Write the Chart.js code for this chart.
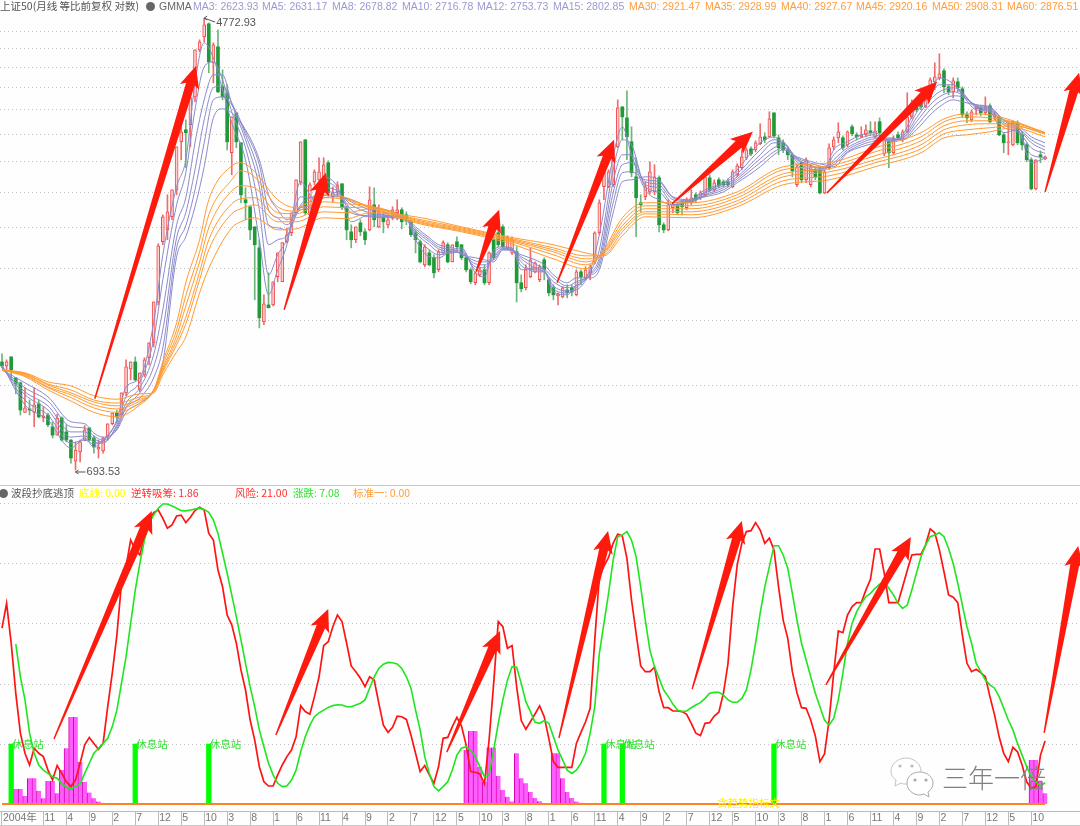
<!DOCTYPE html>
<html lang="zh"><head><meta charset="utf-8"><title>上证50 GMMA</title>
<script src="https://cdn.jsdelivr.net/npm/chart.js@4"></script>
<style>
html,body{margin:0;padding:0;background:#fefefe;width:1080px;height:826px;overflow:hidden}
body{position:relative;font-family:"Liberation Sans",Arial,sans-serif}
canvas{position:absolute;left:0;display:block}
.t{position:absolute;white-space:nowrap;font-size:10.5px;line-height:12px;z-index:3}
.cn{font-family:"Noto Sans CJK SC","Liberation Sans",sans-serif}
.rule{position:absolute;left:0;width:1080px;height:1px;background:#c8c8c8;z-index:2}
.dot{position:absolute;width:9px;height:9px;border-radius:50%;background:#666;z-index:3}
</style></head><body>
<div class="rule" style="top:485px"></div><div class="rule" style="top:825px"></div>
<canvas id="top" width="1080" height="485" style="top:0"></canvas>
<canvas id="bot" width="1080" height="341" style="top:485px"></canvas>
<div class="t cn" style="left:0;top:0;color:#555">上证50(月线 等比前复权 对数)</div>
<div class="dot" style="left:146px;top:2px"></div>
<div class="t" style="left:159px;top:0;color:#666">GMMA</div>
<div class="t" style="left:193px;top:0;color:#9a9ad0">MA3: 2623.93</div>
<div class="t" style="left:262px;top:0;color:#9a9ad0">MA5: 2631.17</div>
<div class="t" style="left:332px;top:0;color:#9a9ad0">MA8: 2678.82</div>
<div class="t" style="left:402px;top:0;color:#9a9ad0">MA10: 2716.78</div>
<div class="t" style="left:477px;top:0;color:#9a9ad0">MA12: 2753.73</div>
<div class="t" style="left:553px;top:0;color:#9a9ad0">MA15: 2802.85</div>
<div class="t" style="left:629px;top:0;color:#ff9d3c">MA30: 2921.47</div>
<div class="t" style="left:705px;top:0;color:#ff9d3c">MA35: 2928.99</div>
<div class="t" style="left:781px;top:0;color:#ff9d3c">MA40: 2927.67</div>
<div class="t" style="left:856px;top:0;color:#ff9d3c">MA45: 2920.16</div>
<div class="t" style="left:932px;top:0;color:#ff9d3c">MA50: 2908.31</div>
<div class="t" style="left:1007px;top:0;color:#ff9d3c">MA60: 2876.51</div>
<div class="dot" style="left:-1px;top:489px"></div>
<div class="t cn" style="left:11px;top:487px;color:#555">波段抄底逃顶</div>
<div class="t cn" style="left:79px;top:487px;color:#ffff00">底线: 0.00</div>
<div class="t cn" style="left:131px;top:487px;color:#ff3030">逆转吸筹: 1.86</div>
<div class="t cn" style="left:235px;top:487px;color:#ff3030">风险: 21.00</div>
<div class="t cn" style="left:293px;top:487px;color:#33e033">涨跌: 7.08</div>
<div class="t cn" style="left:353px;top:487px;color:#ff9d3c">标准一: 0.00</div>
<div class="t cn" style="left:717px;top:797px;color:#ffee00">贪趋势指标文</div>
<svg style="position:absolute;left:888px;top:755px;z-index:3" width="50" height="44" viewBox="0 0 50 44">
<path d="M18 3c8 0 15 6 15 13s-7 13-15 13c-2 0-3 0-5-1l-6 3 1-6c-3-2-5-5-5-9C3 9 10 3 18 3z" fill="#fff" stroke="#c4c4c4"/>
<path d="M32 17c7 0 13 5 13 11 0 4-2 7-5 9l1 5-5-3c-1 0-3 1-4 1-7 0-13-5-13-12s6-11 13-11z" fill="#fff" stroke="#aaa"/>
<circle cx="12" cy="11" r="1.6" fill="#bbb"/><circle cx="24" cy="11" r="1.6" fill="#bbb"/>
<circle cx="27" cy="25" r="1.6" fill="#aaa"/><circle cx="38" cy="25" r="1.6" fill="#aaa"/></svg>
<div class="t cn" style="left:942px;top:762px;font-size:26px;line-height:30px;font-weight:300;color:#808080">三年一倍</div>
<script>
const openPrice=[1100,1081,1124,1028,1006,887,900,887,920,866,
877,834,805,866,816,788,720,749,788,830,
795,758,752,798,845,884,877,964,1068,1100,
976,1041,1120,1193,1421,1837,1933,2044,2293,2815,
2963,3027,3410,4168,4405,4657,3943,4222,3560,3470,
2686,3185,2803,2198,2133,1958,1790,1305,1403,1403,
1582,1549,1837,1909,2079,2373,2839,2061,2373,2393,
2424,2574,2226,2273,2353,2133,1917,1853,1992,1917,
1933,2151,1958,2035,1975,2035,2079,2106,2061,2001,
1909,1837,1665,1752,1716,1630,1752,1814,1686,1837,
1814,1716,1630,1542,1595,1630,1542,1853,1909,1958,
1790,1752,1760,1542,1510,1582,1616,1562,1701,1562,
1510,1458,1452,1496,1510,1465,1616,1575,1609,1686,
1909,2323,2323,2343,2755,3268,3118,2815,2424,2170,
2226,2273,2273,2414,1975,1933,2124,2151,2170,2124,
2170,2245,2217,2245,2414,2293,2393,2373,2373,2323,
2445,2520,2629,2732,2720,2791,2875,2875,3185,2863,
2803,2720,2663,2343,2574,2393,2343,2498,2498,2263,
2520,2755,2863,2863,2779,3001,2900,2875,2900,2950,
2875,3066,2674,2815,2686,2900,2839,2938,3131,3296,
3367,3268,3410,3636,3698,3811,3560,3484,3636,3529,
3158,3092,3240,3254,3185,3282,3131,3118,2900,2803,
2779,3053,2900,2779,2607,2303,2663,2618];
const highPrice=[1139,1110,1124,1028,1010,985,935,985,935,908,
884,852,880,870,841,790,782,788,838,830,
802,788,798,845,884,896,964,1110,1100,1124,
1050,1120,1193,1421,1822,2061,2245,2293,2755,3053,
3092,3410,4168,4350,4772.93,4677,4295,4539,3827,3590,
3131,3185,2803,2313,2133,1958,1853,1465,1609,1549,
1752,1830,1950,2079,2393,2815,2839,2363,2498,2629,
2629,2596,2323,2373,2353,2133,1975,1958,2018,1941,
2323,2313,2151,2079,2061,2133,2198,2124,2088,2018,
1933,1853,1814,1775,1738,1775,1845,1830,1814,1877,
1814,1723,1644,1616,1644,1665,1760,1869,1992,1975,
1885,1877,1798,1595,1665,1790,1686,1665,1716,1575,
1529,1477,1516,1529,1529,1630,1630,1651,1665,1917,
2198,2520,2498,2629,3367,3268,3500,3001,2629,2245,
2373,2585,2552,2434,1992,2198,2170,2170,2188,2217,
2293,2263,2283,2445,2445,2393,2414,2393,2403,2498,
2563,2720,2744,2755,2827,3040,2926,3200,3185,2900,
2839,2755,2686,2563,2585,2629,2552,2520,2520,2498,
2791,2875,3053,2888,2950,3027,2926,3001,3027,3066,
3066,3118,2875,2839,2888,2938,2963,3470,3367,3325,
3396,3440,3698,3943,4098,3843,3590,3698,3698,3560,
3200,3227,3296,3282,3410,3310,3200,3145,2926,3053,
3079,3079,2938,2803,2629,2607,2708,2652];
const lowPrice=[1072,1051,1019,960,877,887,877,834,866,852,
834,795,805,785,782,714,693.53,718,785,785,
745,730,745,788,841,848,877,952,1019,1015,
968,1033,1086,1173,1403,1814,1853,2018,2245,2607,
2520,2755,3339,4132,4312,3779,3620,3470,3367,2720,
2445,2744,2170,2018,1853,1434,1272,1289,1386,1397,
1549,1549,1830,1885,2070,2343,2061,2035,2343,2373,
2393,2245,2179,2226,2106,1853,1790,1830,1885,1814,
1925,1958,1950,1909,1950,2018,2018,1941,1975,1877,
1752,1679,1651,1658,1575,1616,1738,1679,1686,1775,
1701,1616,1535,1529,1582,1529,1529,1701,1798,1790,
1775,1738,1421,1483,1496,1575,1609,1549,1562,1458,
1434,1403,1446,1446,1458,1458,1529,1562,1562,1672,
1893,2198,2313,2323,2744,2839,2607,2424,1877,2088,
2198,2254,2245,1917,1909,1925,2079,2061,2061,2106,
2151,2170,2198,2226,2273,2273,2313,2323,2323,2313,
2424,2498,2607,2652,2697,2779,2803,2875,2863,2663,
2686,2607,2424,2323,2363,2363,2323,2393,2254,2254,
2498,2720,2803,2720,2755,2888,2839,2863,2875,2900,
2863,2888,2652,2520,2663,2839,2815,2926,3105,3200,
3227,3254,3396,3514,3667,3470,3440,3396,3484,3118,
3053,3066,3158,3145,3158,3053,3092,2888,2686,2663,
2767,2779,2720,2585,2293,2293,2574,2607];
const closePrice=[1081,1100,1063,1001,896,904,896,916,870,873,
841,805,866,788,788,730,755,782,823,788,
765,765,795,845,884,870,964,1077,1100,1019,
1050,1110,1193,1421,1806,2044,2088,2293,2755,2938,
2926,3395,4168,4312,4637,3960,4258,3484,3410,2815,
3131,2815,2245,2170,1933,1814,1328,1409,1386,1549,
1752,1830,1893,2079,2393,2815,2079,2343,2477,2477,
2552,2263,2263,2343,2124,1933,1853,1958,1917,1853,
2198,2018,2079,2001,2018,2106,2106,2001,2009,1893,
1853,1686,1798,1665,1609,1760,1830,1686,1814,1798,
1716,1630,1549,1609,1630,1542,1752,1716,1814,1798,
1869,1853,1542,1503,1630,1701,1679,1651,1630,1477,
1465,1471,1510,1477,1483,1616,1582,1630,1651,1909,
2170,2498,2477,2607,3254,3131,2875,2466,2217,2151,
2323,2477,2424,1975,1933,2151,2151,2079,2133,2198,
2217,2198,2263,2424,2293,2363,2333,2343,2343,2477,
2541,2640,2720,2674,2803,2875,2839,3105,2888,2744,
2720,2663,2487,2530,2393,2607,2530,2424,2263,2477,
2744,2839,2938,2744,2938,2913,2875,2900,2963,2926,
2950,2926,2839,2686,2863,2863,2938,3131,3325,3227,
3268,3410,3667,3714,3762,3560,3484,3651,3545,3158,
3118,3200,3268,3185,3268,3066,3158,2900,2803,2815,
3053,2803,2779,2607,2303,2607,2640,2640];

const shortIdx=[0,5,10,15,18,20,22,25,27,30,33,35,38,40,42,44,46,48,50,53,
56,58,60,62,65,68,70,73,76,80,85,88,90,93,95,98,100,103,105,107,
109,111,113,116,118,120,123,125,128,130,133,135,137,140,143,146,150,153,157,160,
165,168,170,173,177,179,181,184,187,190,193,196,199,202,204,207,209,212,215,218,221,224,227];
const ma3=[1086,916,859,762,795,765,788,859,989,1028,1300,1738,2323,2607,3620,4295,4028,3514,3053,2607,
1853,1465,1630,1814,2373,2198,2424,2323,2001,2061,2052,2027,1853,1723,1716,1775,1790,1609,1582,1775,
1798,1790,1630,1644,1630,1483,1465,1529,1630,1893,2640,3001,2663,2293,2198,2151,2198,2293,2363,2498,
2803,2875,2779,2552,2477,2498,2720,2815,2900,2926,2815,2900,3268,3514,3698,3605,3440,3227,3200,2926,2963,2574,2623.93];
const ma5=[1081,935,877,778,788,775,785,852,948,1010,1209,1562,2151,2466,3227,3875,3960,3667,3200,2744,
2106,1595,1738,1853,2226,2217,2373,2303,2079,2052,2044,2027,1885,1775,1738,1760,1775,1630,1616,1752,
1790,1783,1658,1630,1616,1503,1477,1510,1616,1775,2498,2839,2779,2323,2273,2151,2188,2273,2353,2455,
2720,2839,2815,2585,2498,2498,2663,2779,2863,2900,2827,2875,3185,3440,3590,3590,3470,3254,3213,2989,2938,2663,2631.17];
const ma8=[1077,956,896,798,802,782,778,841,923,985,1134,1374,1975,2217,2803,3367,3746,3746,3310,2839,
2323,1814,1853,1885,2151,2236,2313,2283,2106,2044,2035,2018,1909,1814,1760,1752,1760,1651,1644,1730,
1783,1775,1686,1616,1616,1522,1490,1496,1602,1716,2373,2663,2663,2343,2313,2170,2179,2263,2333,2424,
2663,2803,2803,2607,2520,2509,2607,2744,2827,2875,2839,2863,3118,3367,3484,3545,3470,3268,3227,3027,2963,2744,2678.82];
const ma10=[1072,968,912,816,816,792,782,834,908,964,1077,1261,1869,2079,2498,3092,3545,3575,3325,2900,
2445,1975,1950,1933,2133,2198,2273,2263,2151,2079,2052,2018,1925,1837,1783,1760,1752,1672,1665,1716,
1783,1775,1708,1644,1616,1549,1510,1522,1595,1686,2263,2552,2574,2373,2343,2198,2179,2245,2313,2403,
2618,2744,2779,2618,2530,2520,2574,2720,2803,2851,2839,2851,3066,3296,3410,3484,3440,3282,3240,3053,2989,2803,2716.78];
const ma12=[1068,985,931,834,830,802,788,827,904,943,1028,1168,1790,1967,2293,2803,3367,3410,3296,2938,
2552,2106,2035,1975,2124,2151,2236,2245,2179,2106,2070,2027,1941,1853,1798,1775,1745,1693,1686,1701,
1775,1775,1723,1672,1637,1575,1522,1549,1589,1658,2170,2466,2477,2393,2373,2217,2188,2236,2293,2383,
2574,2697,2744,2629,2552,2530,2552,2697,2779,2827,2851,2839,3014,3227,3339,3425,3410,3296,3254,3079,3001,2839,2753.73];
const ma15=[1063,1006,948,852,845,812,798,823,887,923,976,1095,1723,1877,2133,2530,3118,3240,3185,2963,
2607,2245,2106,2018,2106,2133,2217,2226,2198,2133,2088,2035,1958,1869,1814,1790,1738,1716,1701,1686,
1775,1768,1738,1701,1665,1595,1542,1575,1575,1630,2079,2373,2393,2424,2393,2226,2198,2226,2273,2363,
2530,2663,2720,2640,2574,2552,2530,2686,2754,2803,2863,2839,2963,3158,3268,3367,3339,3296,3268,3092,3027,2875,2802.85];

const longIdx=[0,5,10,15,20,25,30,33,35,38,40,43,45,50,52,55,60,64,70,75,
80,90,100,110,120,127,131,135,140,150,160,170,180,190,200,205,210,215,220,227];
const ma30=[1063,1033,976,931,887,870,916,976,1100,1300,1542,1853,2198,2541,2574,2476,2198,2124,2245,2217,
2124,1992,1917,1830,1708,1637,1775,2035,2170,2170,2273,2530,2574,2744,2926,3105,3172,3158,3079,2921.47];
const ma35=[1063,1037,985,945,904,887,923,972,1086,1261,1460,1760,2061,2393,2487,2423,2133,2094,2217,2198,
2133,2001,1925,1845,1738,1665,1760,2001,2142,2142,2245,2498,2541,2697,2875,3066,3131,3118,3066,2928.99];
const ma40=[1063,1041,989,956,916,900,931,972,1072,1229,1397,1686,1950,2283,2333,2313,2079,2070,2179,2160,
2142,2009,1933,1853,1760,1686,1752,1967,2115,2115,2217,2455,2509,2652,2827,3014,3079,3079,3053,2927.67];
const ma45=[1063,1045,997,964,927,912,938,968,1063,1203,1331,1613,1853,2160,2207,2217,2035,2035,2133,2124,
2133,2018,1941,1861,1775,1708,1745,1941,2088,2088,2188,2423,2476,2607,2779,2963,3027,3040,3027,2920.16];
const ma50=[1063,1047,1001,976,935,923,947,968,1054,1183,1294,1562,1775,2070,2115,2151,2001,2001,2088,2079,
2115,2027,1950,1869,1790,1730,1738,1917,2070,2061,2160,2383,2434,2574,2732,2913,2963,2989,3014,2908.31];
const ma60=[1063,1050,1010,993,952,938,960,964,1041,1148,1224,1477,1640,1950,2001,2035,1933,1941,2035,2027,
2079,2044,1958,1877,1814,1752,1730,1885,2044,2035,2133,2343,2393,2530,2686,2863,2900,2938,2989,2876.51];

const reversal=[58.6,66.9,53.6,36.9,23.6,16.9,13,18.6,16.9,15.8,
11.3,8,12.8,10.2,7.4,5.8,8,13.6,19.7,22.2,
20.2,18.2,20.2,32.4,43.6,56.3,73.6,79.1,88,84.7,
83,89.1,94.1,97.1,98,95.2,91.9,93,96,96.3,
93.8,95.6,97.8,98.9,98,90.2,88,78,72.4,63,
59.7,53.6,44.7,38,28,21.3,12.4,7.4,6,6,
9.7,13,15.8,18,22.4,32.7,30.8,29.9,35.8,42.4,
52.8,54.1,59.1,63,60.8,53.6,46,44.1,41.9,39.1,
42.4,41.3,33.6,26.3,23.9,25.6,29.3,29.1,28.2,23,
16.9,10.8,12.8,9.7,6.9,12.4,21.9,22.2,25.8,28.9,
26,19.7,10.8,10.6,10,6.7,21.3,40.2,60.8,59.1,
51.9,52.8,39.1,27.8,24.9,27.4,30,32.7,29.1,21.9,
14.1,12.2,12.2,12.2,12.2,20.2,23.9,27.4,31.9,54.7,
75.8,79.3,82.2,86.9,90,89.3,81.9,68,56.9,46,
44.1,44.1,45.6,37.4,32.1,32.1,31,31,30.8,29.9,
26.9,23.6,22.8,26.9,27.1,29.3,30.6,36.9,46.9,65.8,
79.7,86.9,90.8,91.1,93.8,91.3,86.9,88.6,84.7,72.4,
61.3,55.2,44.1,37.1,32.1,31.9,28,22.7,14.1,16.7,
28,43.6,57.7,57.1,63,65.8,67.1,67.1,71.3,74.9,
85,85,76.9,67.1,67.1,67.1,72.4,77.8,83,83.2,
83.2,86.3,91.7,90.4,84.7,77.4,69.7,68.9,67.1,56.3,
46.9,44.1,44.9,43.8,42.4,35.8,29.7,22.4,16.9,14.1,
18.9,17.4,13,7.4,5.2,5.8,16.3,21];
const trendLine=[null,null,null,53.3,42.4,34.7,23.6,16.9,13,11.3,
10.2,9.1,8.6,6.9,5.6,5,5.8,6.7,10.2,13.6,
16.9,18.6,20.2,21.9,25.8,31.3,40.2,49.1,60.2,71.3,
80.2,88,93.6,96.3,98.6,100,100,99.3,98.6,97.8,
97.7,98,98.3,98.6,98.2,97.2,94.7,90.2,83.6,76.9,
69.7,62.4,54.7,46.9,39.1,32.4,24.7,19.1,13.6,9.7,
6.9,5.8,6,8,11.3,17.4,22.4,26.3,29.1,30.4,
31.3,32.2,32.8,33.1,33,32.4,32.4,33,33.6,34.7,
38.6,42.4,45.2,46.6,47.2,47.1,46.7,45.2,42.4,38.6,
31.3,24.7,15.8,10.2,5.8,4.4,5.8,7.4,11.3,16.3,
18.6,19.1,18,15.8,12.4,9.1,9.7,18,26.9,34.7,
41.3,45.8,45.6,40.2,34.1,30.8,27.2,26.9,27.8,26.9,
22.4,18,14.7,11.3,10.2,11.3,13.6,16.9,23.6,32.4,
50.2,60.2,70.2,81.3,89.1,89.7,90.8,88,82.4,72.4,
61.3,51.3,45.8,41.9,38,35.8,33.3,31.3,30.8,31,
32.1,33,33.8,35.2,36.9,37.2,37.2,36.3,34.7,33.9,
33.9,35.2,38,44.7,53.6,63.6,72.4,79.1,86.1,86.1,
83,78.6,70.2,61.3,53.6,48,42.4,36.9,32.4,28,
26.3,28.6,34.7,43.6,53.6,60.2,64.1,66.9,69.1,70.2,
71.9,73.3,74.1,71.9,69.7,66.9,65.2,66.3,71.3,76.9,
82.4,86.3,89.1,89.7,90.4,89.1,85.2,80.2,73.6,66.3,
59.1,53.6,46.9,44.1,41.3,39.7,38.6,35.8,31.9,28,
24.7,20.2,16.3,12.4,9.1,7.4,6,7.08];

const pinkIdx=[3,4,5,6,7,8,9,10,11,12,13,14,15,16,17,18,19,20,21,
101,102,103,104,105,106,107,108,109,110,111,112,113,114,115,116,117,
120,121,122,123,124,125,126,224,225,226,227];
const pinkVal=[5,5,2.7,8.6,8.6,4.4,1.9,7.7,7.7,3.6,11.3,18.6,29,29,14,7.4,3.8,1.9,.8,
18,24.3,24.3,12.4,7.4,18.8,18.8,9.3,4.7,2.4,.8,16.9,8.6,6.9,4,2,.9,
16.9,16.9,8.6,4,2,.8,.4,14.7,14.7,7.4,3.6];
const restIdx=[2,29,45,131,135,168];
const restVal=[20,20,20,20,20,20];
const restName='休息站';
const baseLine=[0,227]; const baseVal=[0,0];

const gridTop=[993,1310,1636,1956,2270,2590,2898,3230,3550,3870,4194,4510];
const gridBot=[20,40,60,80,100];
const tickIdx=[0,9,14,19,24,29,34,39,44,49,54,59,64,69,74,79,84,89,94,99,104,109,114,119,124,129,134,139,144,149,154,159,164,169,174,179,184,189,194,199,204,209,214,219,224];
const tickText=['2004年','11','4','9','2','7','12','5','10','3','8','1','6','11','4','9','2','7','12','5','10','3','8','1','6','11','4','9','2','7','12','5','10','3','8','1','6','11','4','9','2','7','12','5','10'];

const arrowTopTail=[[20.2,940],[61.4,1374],[103.2,1616],[120.8,1542],[145.8,2160],[179.5,2263],[227,2273]];
const arrowTopTip=[[42.2,3892],[70.5,2466],[108.2,2106],[133.2,2839],[163.4,2938],[203.5,3636],[234.4,3779]];
const arrowBotTail=[[11.3,21.7],[59.6,23],[96.8,17.3],[121.2,22],[150.2,38.3],[179.3,39.7],[226.8,23.7]];
const arrowBotTip=[[32.6,97.7],[71,65],[108.4,57.7],[131.9,91],[161,94.3],[197.8,89],[234.2,86]];

const XMIN=-0.435,XMAX=234.6;
const RED='#ff1a0d';
function xy(idx,val){return idx.map((x,k)=>({x,y:val[k]}));}

function drawArrows(chart,tails,tips){
  const {ctx,scales:{x,y}}=chart;
  ctx.save();ctx.fillStyle=RED;
  tails.forEach((t,k)=>{
    const x0=x.getPixelForValue(t[0]),y0=y.getPixelForValue(t[1]);
    const x1=x.getPixelForValue(tips[k][0]),y1=y.getPixelForValue(tips[k][1]);
    const L=Math.hypot(x1-x0,y1-y0),ux=(x1-x0)/L,uy=(y1-y0)/L,nx=-uy,ny=ux;
    const hl=19,neck=4.5,wing=10,tail=0.7;
    const bx=x1-ux*hl,by=y1-uy*hl;
    ctx.beginPath();
    ctx.moveTo(x0+nx*tail,y0+ny*tail);
    ctx.lineTo(bx+nx*neck,by+ny*neck);
    ctx.lineTo(bx+nx*wing-ux*3,by+ny*wing-uy*3);
    ctx.lineTo(x1,y1);
    ctx.lineTo(bx-nx*wing-ux*3,by-ny*wing-uy*3);
    ctx.lineTo(bx-nx*neck,by-ny*neck);
    ctx.lineTo(x0-nx*tail,y0-ny*tail);
    ctx.closePath();ctx.fill();
  });
  ctx.restore();
}

const topPlugin={id:'topAnn',afterDatasetsDraw(chart){
  const {ctx,scales:{x,y}}=chart;
  drawArrows(chart,arrowTopTail,arrowTopTip);
  const hi=Math.max(...highPrice),lo=Math.min(...lowPrice);
  const hx=x.getPixelForValue(highPrice.indexOf(hi)),hy=y.getPixelForValue(hi);
  const lx=x.getPixelForValue(lowPrice.indexOf(lo)),ly=y.getPixelForValue(lo);
  ctx.save();ctx.strokeStyle='#555';ctx.fillStyle='#555';ctx.lineWidth=1;
  ctx.font="11px 'Liberation Sans'";ctx.textBaseline='middle';
  ctx.beginPath();ctx.moveTo(hx,hy);ctx.lineTo(hx+11,hy+4);ctx.moveTo(hx,hy);ctx.lineTo(hx+3,hy-2);ctx.moveTo(hx,hy);ctx.lineTo(hx+3,hy+2);ctx.stroke();
  ctx.fillText(hi.toFixed(2),hx+12,hy+5);
  ctx.beginPath();ctx.moveTo(lx,ly+2);ctx.lineTo(lx+10,ly+2);ctx.moveTo(lx,ly+2);ctx.lineTo(lx+3,ly);ctx.moveTo(lx,ly+2);ctx.lineTo(lx+3,ly+4);ctx.stroke();
  ctx.fillText(lo.toFixed(2),lx+11,ly+2);
  ctx.restore();
}};
const botPlugin={id:'botAnn',afterDatasetsDraw(chart){
  const {ctx,scales:{x,y}}=chart;
  ctx.save();ctx.fillStyle='#33e033';ctx.font="10.5px 'Noto Sans CJK SC'";ctx.textBaseline='middle';
  restIdx.forEach((i,k)=>ctx.fillText(restName,x.getPixelForValue(i)+1,y.getPixelForValue(restVal[k])));
  ctx.restore();
  drawArrows(chart,arrowBotTail,arrowBotTip);
}};

const xBase={type:'linear',min:XMIN,max:XMAX,bounds:'data',offset:false};
const common={responsive:false,animation:false,devicePixelRatio:1,
  layout:{padding:0},plugins:{legend:{display:false},tooltip:{enabled:false}}};
const yCommon={bounds:'data',border:{display:false,dash:[1,3]},
  grid:{color:'#c4c4c4',lineWidth:1,drawTicks:false,offset:false},
  ticks:{display:false},afterFit(s){s.width=0;}};

const idx=openPrice.map((_,i)=>i);
const up=i=>closePrice[i]>=openPrice[i];
const maLine=(label,idxs,vals,color,order)=>({type:'line',label,data:xy(idxs,vals),borderColor:color,borderWidth:1,
  pointRadius:0,cubicInterpolationMode:'monotone',order});

new Chart(document.getElementById('top'),{type:'bar',plugins:[topPlugin],
 data:{datasets:[
  maLine('MA3',shortIdx,ma3,'#8a8acb',2),maLine('MA5',shortIdx,ma5,'#8a8acb',2),maLine('MA8',shortIdx,ma8,'#8a8acb',2),
  maLine('MA10',shortIdx,ma10,'#8a8acb',2),maLine('MA12',shortIdx,ma12,'#8a8acb',2),maLine('MA15',shortIdx,ma15,'#8a8acb',2),
  maLine('MA30',longIdx,ma30,'#ff9a30',1),maLine('MA35',longIdx,ma35,'#ff9a30',1),maLine('MA40',longIdx,ma40,'#ff9a30',1),
  maLine('MA45',longIdx,ma45,'#ff9a30',1),maLine('MA50',longIdx,ma50,'#ff9a30',1),maLine('MA60',longIdx,ma60,'#ff9a30',1),
  {label:'body',data:idx.map(i=>({x:i,y:[Math.min(openPrice[i],closePrice[i]),Math.max(openPrice[i],closePrice[i])]})),
   barThickness:3,grouped:false,order:3,borderWidth:c=>up(c.dataIndex)?1:0,
   backgroundColor:c=>up(c.dataIndex)?'#ffd0d0':'#1f9a38',borderColor:c=>up(c.dataIndex)?'#f04a4a':'#1f9a38',borderSkipped:false},
  {label:'wick',data:idx.map(i=>({x:i,y:[lowPrice[i],highPrice[i]]})),
   barThickness:1,grouped:false,order:4,
   backgroundColor:c=>up(c.dataIndex)?'#f46a6a':'#6db57a'}
 ]},
 options:{...common,scales:{
  x:{...xBase,display:false,grid:{display:false,offset:false}},
  y:{...yCommon,type:'logarithmic',min:650.5,max:5156,
     afterBuildTicks(s){s.ticks=gridTop.map(value=>({value}));}}
 }}});

new Chart(document.getElementById('bot'),{type:'bar',plugins:[botPlugin],
 data:{datasets:[
  {type:'line',label:'涨跌',data:xy(idx,trendLine),borderColor:'#1ee61e',borderWidth:1.6,pointRadius:0,order:1,spanGaps:false},
  {type:'line',label:'风险',data:xy(idx,reversal),borderColor:'#ff1414',borderWidth:1.7,pointRadius:0,order:2},
  {type:'line',label:'标准一',data:xy(baseLine,baseVal),borderColor:'#ff8420',borderWidth:2,pointRadius:0,order:3},
  {label:'休息站',data:xy(restIdx,restVal),barThickness:4.6,grouped:false,backgroundColor:'#00ff00',order:4},
  {label:'逆转吸筹',data:xy(pinkIdx,pinkVal),barThickness:4.6,grouped:false,backgroundColor:'#ff5cff',
   borderColor:'#d400a8',borderWidth:{left:1,right:0,top:0,bottom:0},borderSkipped:false,order:5}
 ]},
 options:{...common,scales:{
  x:{...xBase,border:{display:true,color:'#bbbbbb'},
     grid:{drawOnChartArea:false,drawTicks:true,tickLength:14,tickColor:'#bbbbbb',offset:false},
     ticks:{autoSkip:false,maxRotation:0,minRotation:0,align:'start',labelOffset:1,padding:-13,color:'#777',
       font:{family:"'Liberation Sans','Noto Sans CJK SC'",size:10.5},
       callback:v=>tickText[tickIdx.indexOf(v)]??''},
     afterBuildTicks(s){s.ticks=tickIdx.map(value=>({value}));},
     afterFit(s){s.height=15;}},
  y:{...yCommon,type:'linear',min:-2.33,max:106.33,
     afterBuildTicks(s){s.ticks=gridBot.map(value=>({value}));}}
 }}});
</script></body></html>
